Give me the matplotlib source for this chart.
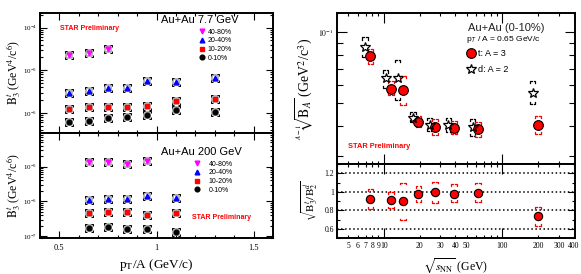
import numpy as np
import matplotlib
matplotlib.use("Agg")
import matplotlib.pyplot as plt
from matplotlib.path import Path
from matplotlib.ticker import FixedLocator, LogLocator, FuncFormatter, NullFormatter, MultipleLocator

plt.rcParams['font.family'] = ['Liberation Serif', 'DejaVu Serif']
plt.rcParams['mathtext.fontset'] = 'stix'

# ---- left: B3 vs pT/A ----
pt_77 = [0.55, 0.65, 0.75, 0.85, 0.95, 1.1, 1.3]
b3_77_4080 = [2.3e-5, 2.55e-5, 3.1e-5]
b3_77_2040 = [2.9e-6, 3.2e-6, 3.9e-6, 3.8e-6, 5.5e-6, 5.2e-6, 6.6e-6]
b3_77_1020 = [1.22e-6, 1.38e-6, 1.4e-6, 1.4e-6, 1.48e-6, 1.95e-6, 2.1e-6]
b3_77_010 = [6.1e-7, 6.5e-7, 7.6e-7, 8.1e-7, 8.8e-7, 1.18e-6, 1.04e-6]

pt_200 = [0.65, 0.75, 0.85, 0.95, 1.1]
b3_200_4080 = [1.37e-5, 1.4e-5, 1.22e-5, 1.5e-5]
b3_200_2040 = [1.07e-6, 1.2e-6, 1.2e-6, 1.46e-6, 1.25e-6]
b3_200_1020 = [4.6e-7, 4.9e-7, 5.0e-7, 4.0e-7, 4.7e-7]
b3_200_010 = [1.75e-7, 1.8e-7, 1.63e-7, 1.56e-7, 1.3e-7]

cent_labels = ["40-80%", "20-40%", "10-20%", "0-10%"]

# ---- right: coalescence parameters vs sqrt(sNN) ----
snn = [7.7, 11.5, 14.5, 19.6, 27, 39, 62.4, 200]
t_val = [0.0792, 0.0575, 0.057, 0.0418, 0.0398, 0.0394, 0.039, 0.0406]
t_sys_hi = [0.0847, 0.0621, 0.0652, 0.0441, 0.043, 0.0421, 0.0417, 0.0441]
t_sys_lo = [0.0733, 0.0541, 0.049, 0.0396, 0.0368, 0.037, 0.036, 0.0371]
d_val = [0.086, 0.0637, 0.064, 0.0434, 0.0404, 0.0404, 0.0396, 0.0553]
d_sys_hi = [0.0947, 0.0688, 0.076, 0.0462, 0.0433, 0.0433, 0.0429, 0.0619]
d_sys_lo = [0.0782, 0.058, 0.0518, 0.0419, 0.0381, 0.038, 0.0365, 0.0496]
ratio = [0.92, 0.907, 0.896, 0.975, 0.993, 0.98, 0.99, 0.735]
ratio_hi = [1.03, 1.0, 1.10, 1.065, 1.11, 1.08, 1.10, 0.83]
ratio_lo = [0.81, 0.82, 0.69, 0.89, 0.88, 0.89, 0.89, 0.635]

W, H = 581, 274
fig = plt.figure(figsize=(W / 100, H / 100), dpi=100)


def px_axes(x0, y0, x1, y1):
    return fig.add_axes([x0 / W, 1 - y1 / H, (x1 - x0) / W, (y1 - y0) / H])


def root_style(ax):
    for s in ax.spines.values():
        s.set_linewidth(1.4)
    ax.tick_params(which='both', direction='in', top=True, right=True, width=0.8)
    ax.tick_params(which='major', length=5)
    ax.tick_params(which='minor', length=2.5)


# corner bracket marker
corner_verts = [(-1, 0.5), (-1, 1), (-0.5, 1),
                (0.5, 1), (1, 1), (1, 0.5),
                (-1, -0.5), (-1, -1), (-0.5, -1),
                (0.5, -1), (1, -1), (1, -0.5)]
corner_codes = [Path.MOVETO, Path.LINETO, Path.LINETO] * 4
corner_marker = Path(corner_verts, corner_codes)

styles = [dict(marker='v', color='magenta'), dict(marker='^', color='blue'),
          dict(marker='s', color='red'), dict(marker='o', color='black')]


def left_panel(ax, x, series, title, title_y, leg_anchor, leg_pad, star_xy):
    root_style(ax)
    ax.set_yscale('log')
    handles = []
    for ys, st, lab in zip(series, styles, cent_labels):
        xs = x[:len(ys)]
        ax.plot(xs, ys, ls='none', marker='s', ms=5, mfc='none', mec='#a0a0a0', mew=1.1, zorder=2)
        ax.plot(xs, ys, ls='none', marker=corner_marker, ms=6.2, mfc='none', mec='black', mew=0.7, zorder=3)
        h, = ax.plot(xs, ys, ls='none', marker=st['marker'], color=st['color'], ms=3.4, zorder=4, label=lab)
        handles.append(h)
    ax.set_xlim(0.4, 1.6)
    ax.xaxis.set_major_locator(FixedLocator([0.5, 1.0, 1.5]))
    ax.xaxis.set_minor_locator(MultipleLocator(0.1))
    ax.yaxis.set_minor_locator(LogLocator(base=10, subs=np.arange(2, 10)))
    ax.yaxis.set_minor_formatter(NullFormatter())
    ax.tick_params(axis='y', labelsize=5, pad=2)
    ax.set_ylabel(r'$\mathrm{B}_3^t$ (GeV$^4$/c$^6$)', fontsize=8.5, labelpad=1)
    ax.text(161 / W, 1 - title_y / H, title, transform=fig.transFigure,
            fontsize=8, family='Liberation Sans', va='center', ha='left')
    ax.text(star_xy[0] / W, 1 - star_xy[1] / H, 'STAR Preliminary', transform=fig.transFigure,
            fontsize=5, color='red', weight='bold', family='Liberation Sans', va='center')
    leg = ax.legend(handles=handles, loc='upper left', bbox_to_anchor=leg_anchor,
                    bbox_transform=fig.transFigure, frameon=False,
                    handlelength=0.8, handletextpad=leg_pad, labelspacing=0.25,
                    borderpad=0, borderaxespad=0, prop={'family': 'Liberation Sans', 'size': 5})
    return leg


ax1 = px_axes(40, 13, 273, 133)
left_panel(ax1, pt_77, [b3_77_4080, b3_77_2040, b3_77_1020, b3_77_010], 'Au+Au 7.7 GeV', 20,
           (199.5 / W, 1 - 28.5 / H), 0.4, (60, 28.5))
ax1.set_ylim(3.4e-7, 2.2e-4)
ax1.tick_params(axis='x', labelbottom=False)

ax2 = px_axes(40, 133, 273, 238)
left_panel(ax2, pt_200, [b3_200_4080, b3_200_2040, b3_200_1020, b3_200_010], 'Au+Au 200 GeV', 152,
           (194.5 / W, 1 - 160.5 / H), 1.2, (191.5, 217.5))
ax2.set_ylim(8.8e-8, 9.3e-5)
ax2.set_xticklabels(['0.5', '1', '1.5'])
ax2.tick_params(axis='x', labelsize=6, pad=4)
ax2.set_xlabel(r'p$_{\mathrm{T}}$/A (GeV/c)', fontsize=9.5, labelpad=4)


# ---- right panels ----
def brackets(ax, x, lo, hi, color, hw, leg_len, log_y):
    for xi, l, h in zip(x, lo, hi):
        xl, xr = xi * 10 ** (-hw), xi * 10 ** hw
        xli, xri = xi * 10 ** (-hw * 0.4), xi * 10 ** (hw * 0.4)
        if log_y:
            hl, lh = h * 10 ** (-leg_len), l * 10 ** leg_len
        else:
            hl, lh = h - leg_len, l + leg_len
        for yy, yl in ((h, hl), (l, lh)):
            ax.plot([xl, xl, xli], [yl, yy, yy], color=color, lw=0.9, zorder=2)
            ax.plot([xri, xr, xr], [yy, yy, yl], color=color, lw=0.9, zorder=2)


def log_x_ticks(ax, labels):
    ax.set_xscale('log')
    ax.set_xlim(4, 410)
    ax.xaxis.set_major_locator(FixedLocator([10, 100]))
    ax.xaxis.set_minor_locator(LogLocator(base=10, subs=np.arange(2, 10)))
    shown = {5, 6, 7, 8, 9, 20, 30, 40, 50, 200, 300, 400}
    if labels:
        ax.xaxis.set_major_formatter(FuncFormatter(lambda v, p: '%d' % round(v)))
        ax.xaxis.set_minor_formatter(FuncFormatter(
            lambda v, p: '%d' % round(v) if round(v) in shown and abs(v - round(v)) < 1e-6 else ''))
        ax.tick_params(axis='x', which='both', labelsize=5.5, pad=3)
    else:
        ax.xaxis.set_major_formatter(NullFormatter())
        ax.xaxis.set_minor_formatter(NullFormatter())
    ax.tick_params(axis='x', which='major', length=7)


d_x = [s * 0.9 for s in snn]

ax3 = px_axes(336.7, 13, 575, 164)
root_style(ax3)
ax3.set_yscale('log')
brackets(ax3, d_x, d_sys_lo, d_sys_hi, 'black', 0.022, 0.009, True)
brackets(ax3, snn, t_sys_lo, t_sys_hi, 'red', 0.022, 0.009, True)
h_t, = ax3.plot(snn, t_val, ls='none', marker='o', ms=7, mfc='red', mec='black', mew=0.8, zorder=4)
h_d, = ax3.plot(d_x, d_val, ls='none', marker='*', ms=7.5, mfc='none', mec='black', mew=0.9, zorder=4)
log_x_ticks(ax3, False)
ax3.set_ylim(0.0278, 0.12)
ax3.yaxis.set_major_locator(FixedLocator([0.1]))
ax3.yaxis.set_major_formatter(FuncFormatter(lambda v, p: r'$10^{-1}$'))
ax3.yaxis.set_minor_locator(LogLocator(base=10, subs=np.arange(2, 10)))
ax3.yaxis.set_minor_formatter(NullFormatter())
ax3.tick_params(axis='y', which='major', labelsize=5.5, pad=2, length=7)
ax3.tick_params(axis='y', which='minor', length=4)
ax3.set_ylabel(r'$\sqrt[A-1]{\mathrm{B}_A}$ (GeV$^2$/c$^3$)', fontsize=10, labelpad=2)
ax3.text(468 / W, 1 - 28.3 / H, 'Au+Au (0-10%)', transform=fig.transFigure, fontsize=8,
         family='Liberation Sans', va='center', color='#222222')
ax3.text(466 / W, 1 - 39.3 / H, r'p$_{\mathsf{T}}$ / A = 0.65 GeV/c', transform=fig.transFigure,
         fontsize=6, family='Liberation Sans', va='center')
ax3.text(348.3 / W, 1 - 147 / H, 'STAR Preliminary', transform=fig.transFigure,
         fontsize=5.3, color='red', weight='bold', family='Liberation Sans', va='center')
ax3.legend([h_t, h_d], ['t: A = 3', 'd: A = 2'], loc='upper left',
           bbox_to_anchor=(466.5 / W, 1 - 49 / H), bbox_transform=fig.transFigure,
           frameon=False, handlelength=1.0, handletextpad=0.3, labelspacing=0.75,
           borderpad=0, borderaxespad=0, prop={'family': 'Liberation Sans', 'size': 6.5})

ax4 = px_axes(336.7, 164, 575, 238)
root_style(ax4)
for lvl in [0.6, 0.8, 1.0, 1.2]:
    ax4.axhline(lvl, color='black', ls=':', lw=1.1, zorder=1)
brackets(ax4, snn, ratio_lo, ratio_hi, 'red', 0.022, 0.02, False)
ax4.plot(snn, ratio, ls='none', marker='o', ms=6, mfc='red', mec='black', mew=0.8, zorder=4)
log_x_ticks(ax4, True)
ax4.set_ylim(0.5, 1.3)
ax4.yaxis.set_major_locator(FixedLocator([0.6, 0.8, 1.0, 1.2]))
ax4.yaxis.set_major_formatter(FuncFormatter(lambda v, p: ('%.1f' % v).replace('1.0', '1')))
ax4.yaxis.set_minor_locator(MultipleLocator(0.1))
ax4.tick_params(axis='y', labelsize=5.5, pad=2)
ax4.set_ylabel(r'$\sqrt{\mathrm{B}_3^t/\mathrm{B}_2^d}$', fontsize=8, labelpad=4)
ax4.set_xlabel(r'$\sqrt{s_{\mathrm{NN}}}$ (GeV)', fontsize=8.5, labelpad=4)

fig.savefig('out.png', dpi=100)
